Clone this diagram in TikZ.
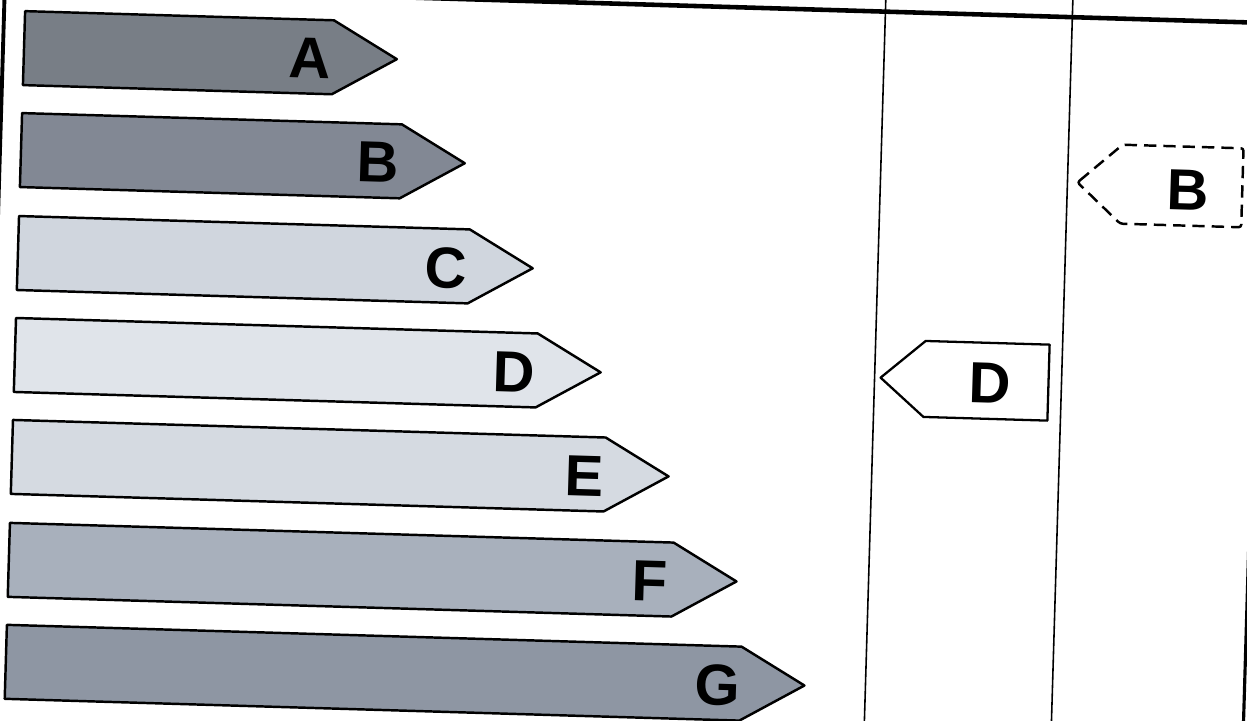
\documentclass[tikz,border=0pt]{standalone}
\usepackage{fontspec}
\setmainfont{Liberation Sans}
\usepackage{xcolor}
\definecolor{classA}{RGB}{120,126,134}
\definecolor{classB}{RGB}{130,136,148}
\definecolor{classC}{RGB}{208,214,222}
\definecolor{classD}{RGB}{224,228,234}
\definecolor{classE}{RGB}{213,218,225}
\definecolor{classF}{RGB}{168,176,188}
\definecolor{classG}{RGB}{142,150,163}
\usepackage{tikz}
\tikzset{
  bar/.style={
    draw=black, line width=1.4pt, line join=round
  },
  tag/.style={
    font=\fontsize{33}{33}\selectfont\bfseries,
    inner sep=0pt, transform shape
  },
  rating/.style={
    draw=black, line width=1.3pt, fill=white, line join=round
  },
  guess/.style={
    draw=black, line width=1.4pt, dash pattern=on 7pt off 4pt,
    rounded corners=1.5pt
  },
  rule/.style={draw=black, line width=0.9pt},
}

\begin{document}
\begin{tikzpicture}[x=0.02cm, y=-0.02cm]
  \useasboundingbox (0,0) rectangle (1247,720);
  \clip (0,0) rectangle (1247,720);
  \fill [white] (0,0) rectangle (1247,720);

  \begin{scope}[rotate around={-1.7:(623,360)}]
    % table frame
    \draw [line width=2.6pt] (-20,4) -- (1270,4);
    \draw [line width=2.2pt] (-6,-20) -- (-6,740);
    \draw [line width=1.8pt] (1254,-20) -- (1254,740);
    \draw [rule] (875,-20)  -- (875,740);
    \draw [rule] (1062,-20) -- (1062,740);

    % scale of classes
    \draw [bar, fill=classA] (15,29)  -- (324,29)  -- (388,66)  -- (324,103) -- (15,103) -- cycle;
    \draw [bar, fill=classB] (15,131) -- (395,131) -- (459,168) -- (395,205) -- (15,205) -- cycle;
    \draw [bar, fill=classC] (15,234) -- (466,234) -- (530,271) -- (466,308) -- (15,308) -- cycle;
    \draw [bar, fill=classD] (15,336) -- (537,336) -- (601,373) -- (537,410) -- (15,410) -- cycle;
    \draw [bar, fill=classE] (15,438) -- (608,438) -- (672,475) -- (608,512) -- (15,512) -- cycle;
    \draw [bar, fill=classF] (15,541) -- (679,541) -- (743,578) -- (679,615) -- (15,615) -- cycle;
    \draw [bar, fill=classG] (15,643) -- (750,643) -- (814,680) -- (750,717) -- (15,717) -- cycle;

    \node (tagA) [tag] at (301,68)  {A};
    \node (tagB) [tag] at (372,170) {B};
    \node (tagC) [tag] at (443,273) {C};
    \node (tagD) [tag] at (514,375) {D};
    \node (tagE) [tag] at (588,477) {E};
    \node (tagF) [tag] at (656,580) {F};
    \node (tagG) [tag] at (727,682) {G};

    % ratings
    \draw [rating] (881,370) -- (925,332) -- (1049,332) -- (1049,408) -- (925,408) -- cycle;
    \node (rateD) [tag] at (991,372) {D};
    \draw [guess] (1072,169) -- (1116,130) -- (1237,130) -- (1237,209) -- (1116,209) -- cycle;
    \node (rateB) [tag] at (1183,173) {B};
  \end{scope}
\end{tikzpicture}
\end{document}
